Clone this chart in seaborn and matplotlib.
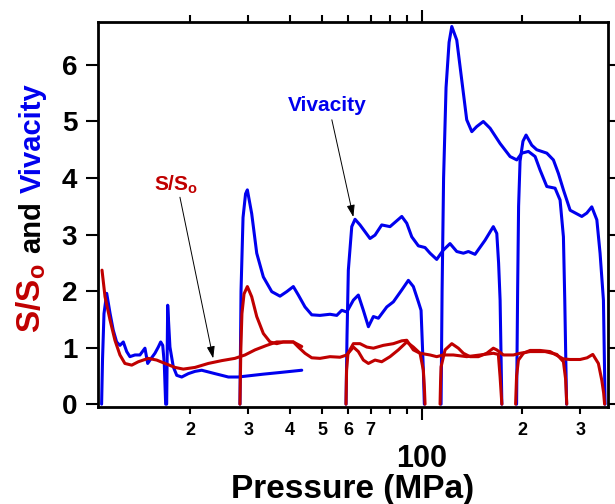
import pandas as pd
import matplotlib
matplotlib.use("Agg")
import matplotlib.pyplot as plt
from matplotlib.ticker import FixedLocator, FixedFormatter
import seaborn as sns

# Vivacity traces, one per closed-bomb shot (pressure in MPa)
viv1_p = [10.84, 10.91, 11.02, 11.23, 11.49, 11.75, 12.03, 12.31, 12.60, 12.90, 13.19, 13.66,
          14.14, 14.64, 14.92, 15.16, 15.69, 16.06, 16.33, 16.56, 16.74, 16.90]
viv1_v = [0.0, 0.8, 1.6, 1.96, 1.61, 1.31, 1.10, 1.04, 1.10, 0.93, 0.84, 0.87,
          0.87, 0.99, 0.72, 0.78, 0.90, 1.01, 1.10, 1.04, 0.72, 0.0]

viv2_p = [17.02, 17.14, 17.41, 17.82, 18.25, 18.89, 19.78, 20.72, 21.70, 22.72, 23.78, 24.93,
          26.11, 27.92, 29.92, 33.20, 37.35, 43.42]
viv2_v = [0.0, 1.75, 1.01, 0.66, 0.51, 0.48, 0.54, 0.58, 0.60, 0.57, 0.54, 0.51,
          0.48, 0.48, 0.50, 0.53, 0.56, 0.60]

viv3_p = [28.29, 28.50, 28.90, 29.41, 29.78, 30.69, 31.78, 33.27, 35.27, 37.35, 39.13, 40.96,
          42.41, 44.41, 46.54, 49.28, 52.81, 55.35, 57.30, 59.33, 62.11, 64.29, 66.56, 68.93,
          71.36, 73.87, 78.31, 81.97, 86.88, 90.94, 94.14, 97.48, 99.31, 100.9, 101.6]
viv3_v = [0.0, 2.0, 3.3, 3.72, 3.79, 3.37, 2.67, 2.25, 1.99, 1.91, 1.99, 2.08,
          1.93, 1.72, 1.58, 1.57, 1.59, 1.57, 1.66, 1.63, 1.84, 1.93, 1.66, 1.37,
          1.55, 1.52, 1.72, 1.81, 2.02, 2.19, 2.08, 1.81, 1.66, 0.60, 0.0]

viv4_p = [59.02, 59.43, 59.98, 61.42, 62.83, 65.04, 69.71, 72.17, 75.6, 80.08, 86.88, 89.94,
          93.1, 97.48, 102.1, 105.7, 110.7, 115.7, 121.4, 127.2, 133.2, 137.9, 144.4, 154.8,
          163.9, 167.9, 170.0, 171.8, 173.9]
viv4_v = [0.0, 1.2, 2.37, 3.14, 3.27, 3.17, 2.93, 2.99, 3.17, 3.14, 3.32, 3.20,
          2.96, 2.80, 2.77, 2.67, 2.56, 2.72, 2.84, 2.70, 2.67, 2.70, 2.65, 2.90,
          3.14, 3.02, 2.5, 1.84, 0.0]

viv5_p = [114.1, 114.9, 116.1, 118.1, 120.6, 122.9, 127.2, 131.7, 136.3, 141.2, 146.1, 152.9,
          160.3, 171.8, 184.1, 192.9, 199.7, 209.1, 219.0, 226.7, 237.5, 251.5, 260.4, 266.5,
          269.0, 272.4]
viv5_v = [0.0, 2.0, 4.0, 5.6, 6.4, 6.68, 6.44, 5.73, 5.03, 4.82, 4.91, 5.00,
          4.88, 4.61, 4.38, 4.32, 4.44, 4.47, 4.38, 4.14, 3.85, 3.82, 3.61, 2.96,
          1.84, 0.0]

viv6_p = [192.6, 194.0, 195.3, 197.3, 201.3, 205.7, 214.0, 221.5, 237.5, 248.6, 257.4, 266.5,
          279.2, 302.7, 313.4, 324.4, 336.0, 343.6, 351.7, 355.8]
viv6_v = [0.0, 2.0, 3.5, 4.3, 4.65, 4.76, 4.58, 4.50, 4.44, 4.32, 4.08, 3.79,
          3.43, 3.32, 3.38, 3.49, 3.26, 2.67, 1.84, 0.0]

# S/So traces
sso1_p = [10.87, 11.10, 11.49, 11.89, 12.31, 12.74, 13.36, 13.98, 14.98, 15.88, 16.82, 18.03,
          19.10, 20.72, 22.72, 24.93, 27.32, 29.30, 31.41, 34.06, 36.50, 39.13, 40.96, 43.42]
sso1_v = [2.37, 1.90, 1.49, 1.13, 0.87, 0.72, 0.69, 0.75, 0.81, 0.78, 0.72, 0.65,
          0.62, 0.65, 0.72, 0.77, 0.81, 0.87, 0.96, 1.04, 1.10, 1.10, 1.10, 1.02]

sso3_p = [28.29, 28.47, 28.68, 29.10, 29.78, 30.69, 31.78, 33.27, 34.85, 36.50, 38.21, 40.96,
          42.41, 44.41, 46.54, 49.28, 52.81, 56.60, 59.33, 62.11, 64.29, 66.56, 68.93, 72.17,
          75.6, 80.08, 84.84, 89.94, 94.14, 98.6, 100.9, 101.7, 102.1]
sso3_v = [0.0, 1.0, 1.6, 1.95, 2.08, 1.90, 1.55, 1.25, 1.10, 1.07, 1.10, 1.10,
          1.01, 0.90, 0.82, 0.81, 0.84, 0.83, 0.87, 1.01, 0.93, 0.78, 0.72, 0.78,
          0.75, 0.84, 0.96, 1.10, 1.01, 0.90, 0.6, 0.25, 0.0]

sso4_p = [59.02, 59.25, 59.83, 62.11, 65.04, 68.15, 71.36, 76.43, 81.97, 86.88, 89.94, 94.14,
          98.6, 105.7, 110.7, 115.9, 124.2, 136.3, 149.5, 163.9, 169.7, 171.8, 173.9]
sso4_v = [0.0, 0.6, 0.9, 1.07, 1.07, 1.01, 0.99, 1.04, 1.07, 1.12, 1.13, 0.96,
          0.90, 0.87, 0.84, 0.87, 0.87, 0.84, 0.87, 0.90, 0.88, 0.48, 0.0]

sso5_p = [113.3, 113.7, 114.1, 117.3, 122.9, 128.6, 133.2, 139.5, 147.8, 156.6, 163.9, 167.9,
          175.8, 188.4, 197.3, 211.5, 234.7, 254.6, 266.5, 270.5, 272.8]
sso5_v = [0.0, 0.4, 0.66, 0.96, 1.07, 0.99, 0.90, 0.84, 0.84, 0.90, 0.99, 0.96,
          0.87, 0.87, 0.90, 0.93, 0.93, 0.88, 0.75, 0.45, 0.0]

sso6_p = [191.3, 192.6, 195.1, 201.9, 211.5, 226.7, 243.0, 255.1, 266.5, 279.2, 299.2, 314.1,
          326.7, 339.6, 347.8, 352.2, 354.6]
sso6_v = [0.0, 0.5, 0.78, 0.90, 0.95, 0.95, 0.93, 0.86, 0.80, 0.79, 0.79, 0.82,
          0.88, 0.72, 0.42, 0.2, 0.0]

x_minor = [20, 30, 40, 50, 60, 70, 80, 90, 200, 300]
x_minor_labels = ['2', '3', '4', '5', '6', '7', '', '', '2', '3']

blue = '#0000ee'
red = '#c00000'


def to_long(traces):
    parts = []
    for i, (p, v) in enumerate(traces):
        parts.append(pd.DataFrame({'pressure': p, 'value': v, 'shot': i}))
    return pd.concat(parts, ignore_index=True)


viv = to_long([(viv1_p, viv1_v), (viv2_p, viv2_v), (viv3_p, viv3_v),
               (viv4_p, viv4_v), (viv5_p, viv5_v), (viv6_p, viv6_v)])
sso = to_long([(sso1_p, sso1_v), (sso3_p, sso3_v), (sso4_p, sso4_v),
               (sso5_p, sso5_v), (sso6_p, sso6_v)])

sns.set_style('ticks', {'axes.edgecolor': 'black', 'xtick.color': 'black',
                        'ytick.color': 'black', 'text.color': 'black',
                        'axes.labelcolor': 'black'})
plt.rcParams['font.family'] = ['Liberation Sans', 'DejaVu Sans']
plt.rcParams['font.weight'] = 'bold'
plt.rcParams['mathtext.fontset'] = 'custom'
plt.rcParams['mathtext.rm'] = 'Liberation Sans'
plt.rcParams['mathtext.bf'] = 'Liberation Sans:bold'

fig = plt.figure(figsize=(6.15, 5.04), dpi=100)
ax = fig.add_axes([0.1593, 0.1925, 0.8293, 0.7639])

sns.lineplot(data=viv, x='pressure', y='value', units='shot', estimator=None,
             sort=False, color=blue, lw=2.2, ax=ax)
sns.lineplot(data=sso, x='pressure', y='value', units='shot', estimator=None,
             sort=False, color=red, lw=2.2, ax=ax)

ax.set_xscale('log')
ax.set_xlim(10.57, 363)
ax.set_ylim(-0.05, 6.76)
ax.set_yticks(range(7))

ax.xaxis.set_major_locator(FixedLocator([100]))
ax.xaxis.set_major_formatter(FixedFormatter(['100']))
ax.xaxis.set_minor_locator(FixedLocator(x_minor))
ax.xaxis.set_minor_formatter(FixedFormatter(x_minor_labels))

ax.tick_params(axis='x', which='major', length=9, width=1.5, labelsize=22, pad=18,
               top=True, direction='out')
ax.tick_params(axis='x', which='minor', length=5, width=1.5, labelsize=13, pad=6,
               top=True, direction='out')
ax.tick_params(axis='y', length=9, width=1.5, labelsize=20, pad=6, right=True,
               direction='out')
for s in ax.spines.values():
    s.set_linewidth(2)

ax.set_ylabel('')
ax.set_xlabel('Pressure (MPa)', fontsize=24, fontweight='bold', color='black')
ax.xaxis.set_label_coords(0.5, -0.236)
ax.xaxis.label.set_va('baseline')

# multi-coloured y label
fig.text(0.066, 0.4075, r'S/S$_\mathbf{o}$', color=red, fontsize=24, rotation=90,
         rotation_mode='anchor', ha='center', va='baseline')
fig.text(0.066, 0.5500, 'and', color='black', fontsize=21, rotation=90,
         rotation_mode='anchor', ha='center', va='baseline')
fig.text(0.066, 0.7262, 'Vivacity', color=blue, fontsize=21, rotation=90,
         rotation_mode='anchor', ha='center', va='baseline')

# callouts
ax.text(51.7, 5.29, 'Vivacity', color=blue, fontsize=15, ha='center', va='center')
ax.annotate('', xy=(62.1, 3.31), xytext=(53.5, 5.03),
            arrowprops=dict(arrowstyle='-|>,head_length=0.6,head_width=0.2',
                            color='black', lw=0.7, shrinkA=0, shrinkB=0, mutation_scale=12))
ax.text(18.16, 3.88, r'S/S$_\mathbf{o}$', color=red, fontsize=15, ha='center', va='center')
ax.annotate('', xy=(23.5, 0.81), xytext=(18.66, 3.66),
            arrowprops=dict(arrowstyle='-|>,head_length=0.6,head_width=0.2',
                            color='black', lw=0.7, shrinkA=0, shrinkB=0, mutation_scale=12))

fig.savefig('out.png', dpi=100)
